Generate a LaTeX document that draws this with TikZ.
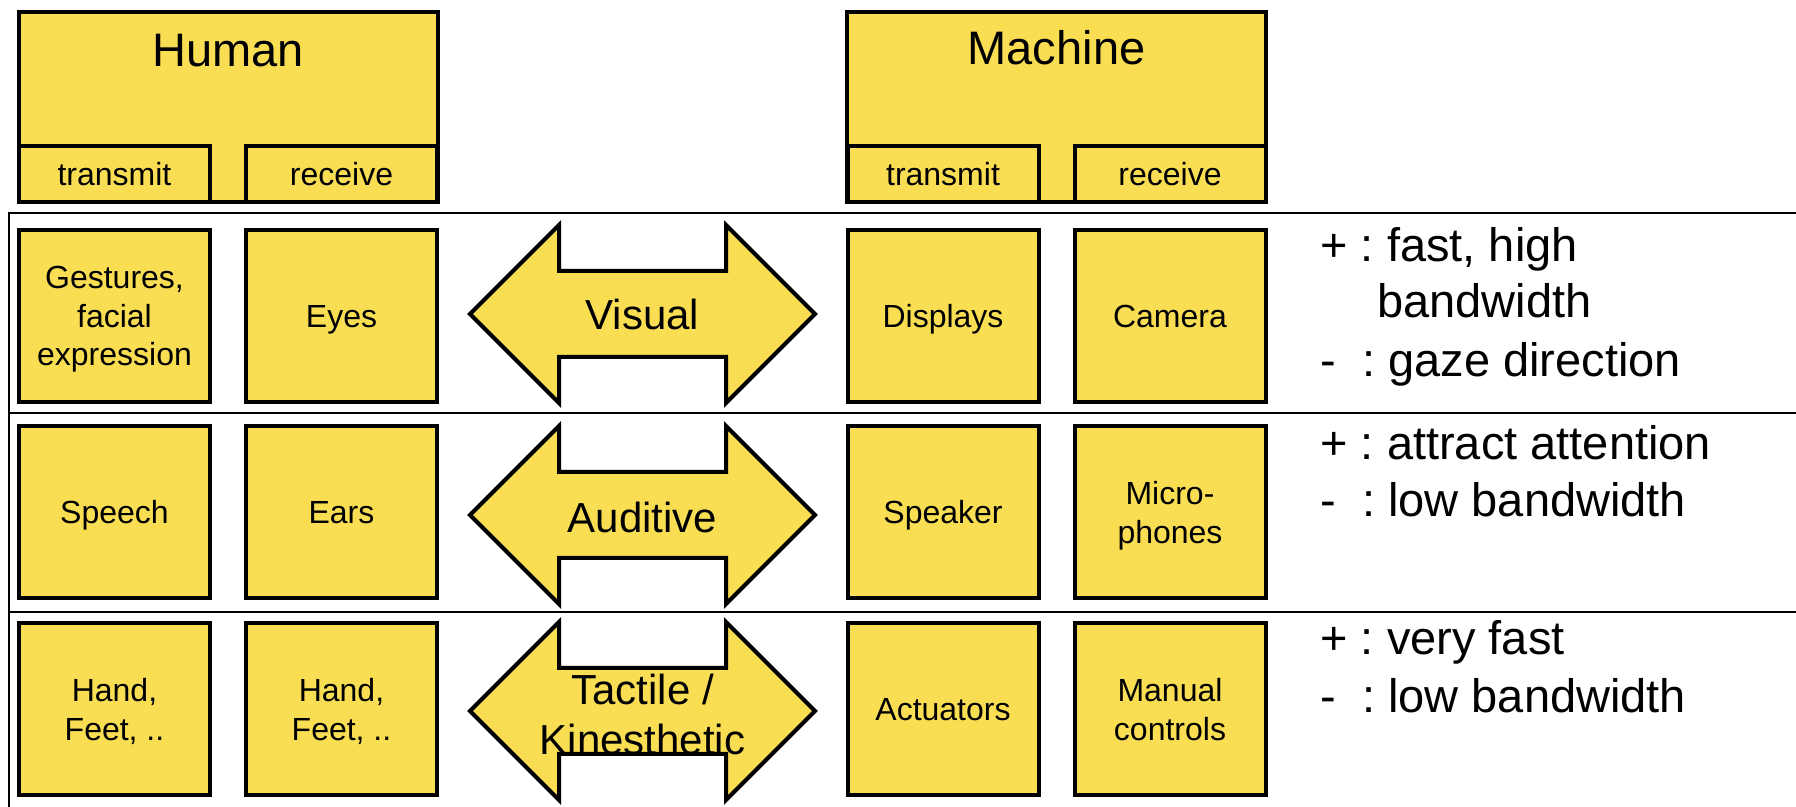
\documentclass[tikz,border=0pt]{standalone}
\usepackage{fontspec}
\setmainfont{Liberation Sans}
\definecolor{boxyellow}{RGB}{249,222,84}
\newcommand\tstrutx{\rule{0pt}{16pt}}
\begin{document}
\frenchspacing
\begin{tikzpicture}[x=0.5pt,y=-0.5pt,
  box/.style={draw=black,line width=2pt,fill=boxyellow,inner sep=0pt,align=center,
    font=\fontsize{16}{19.25}\selectfont,minimum width=95.5pt,minimum height=86pt,
    execute at begin node={\rule{0pt}{16pt}},
    execute at end node={\rule[-4.54pt]{0pt}{0pt}}},
  subbox/.style={box,minimum height=28pt},
  hdr/.style={draw=black,line width=2pt,fill=boxyellow,minimum width=209.5pt,minimum height=95pt,inner sep=0pt},
  hdrtext/.style={font=\fontsize{23.5}{28}\selectfont,anchor=base,inner sep=0pt},
  arrowshape/.style={draw=black,line width=2pt,fill=boxyellow,line join=miter},
  arrowtext/.style={align=center,font=\fontsize{21}{25}\selectfont,inner sep=0pt},
  note/.style={font=\fontsize{23.5}{28}\selectfont,anchor=base west,inner sep=0pt},
  sep/.style={line width=1.35pt,black}
]
\useasboundingbox (0,0) rectangle (1796,807);

% table borders
\draw[sep] (1796,213) -- (9,213) -- (9,807);
\draw[sep] (9,413) -- (1796,413);
\draw[sep] (9,612) -- (1796,612);

% headers
\node[hdr] (human) at (228,107) {};
\node[hdrtext] (humanlbl) at (228,67) {Human};
\node[subbox] (htx) at (114.5,174) {transmit};
\node[subbox] (hrx) at (341.5,174) {receive};

\node[hdr] (machine) at (1056.5,107) {};
\node[hdrtext] (machinelbl) at (1056.5,65) {Machine};
\node[subbox] (mtx) at (943,174) {transmit};
\node[subbox] (mrx) at (1170,174) {receive};

% row 1
\node[box] (r1a) at (114.5,316) {\tstrutx Gestures,\\facial\\expression};
\node[box] (r1b) at (341.5,316) {Eyes};
\node[box] (r1c) at (943,316) {Displays};
\node[box] (r1d) at (1170,316) {Camera};
% row 2
\node[box] (r2a) at (114.5,512.5) {Speech};
\node[box] (r2b) at (341.5,512.5) {Ears};
\node[box] (r2c) at (943,512.5) {Speaker};
\node[box] (r2d) at (1170,512.5) {\tstrutx Micro-\\phones};
% row 3
\node[box] (r3a) at (114.5,709.5) {\tstrutx Hand,\\Feet, ..};
\node[box] (r3b) at (341.5,709.5) {\tstrutx Hand,\\Feet, ..};
\node[box] (r3c) at (943,709.5) {Actuators};
\node[box] (r3d) at (1170,709.5) {\tstrutx Manual\\controls};

% double arrows
\foreach \c in {314,515,711}{
  \draw[arrowshape] (470,\c) -- (559,\c-89) -- (559,\c-43) -- (726,\c-43) -- (726,\c-89)
    -- (815,\c) -- (726,\c+89) -- (726,\c+43) -- (559,\c+43) -- (559,\c+89) -- cycle;
}
\node[arrowtext] (visual) at (642.5,314) {Visual};
\node[arrowtext] (auditive) at (642.5,517) {Auditive};
\node[arrowtext] (tactile) at (642.5,714) {Tactile /\\Kinesthetic};

% notes
\node[note] (n1a) at (1320,262) {+ : fast, high};
\node[note] (n1b) at (1377,318) {bandwidth};
\node[note] (n1c) at (1320,377) {-\ \ : gaze direction};
\node[note] (n2a) at (1320,460) {+ : attract attention};
\node[note] (n2b) at (1320,517) {-\ \ : low bandwidth};
\node[note] (n3a) at (1320,655) {+ : very fast};
\node[note] (n3b) at (1320,712) {-\ \ : low bandwidth};
\end{tikzpicture}
\end{document}
